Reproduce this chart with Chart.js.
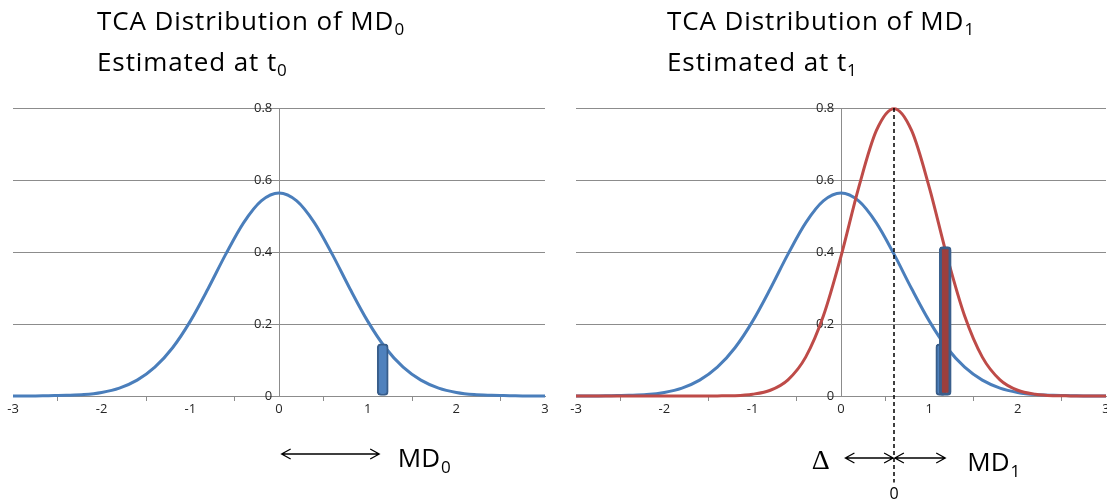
<!DOCTYPE html>
<html>
<head>
<meta charset="utf-8">
<script src="https://cdn.jsdelivr.net/npm/chart.js@4"></script>
<style>
  html, body { margin: 0; padding: 0; background: #fff; }
  body { width: 1107px; height: 502px; overflow: hidden; position: relative; }
  canvas { position: absolute; top: 0; }
  #leftChart { left: 0; }
  #rightChart { left: 560px; }
  .title {
    position: absolute; top: 0px;
    font-family: "Open Sans", sans-serif; font-size: 26px; line-height: 41px; color: #000;
    letter-spacing: 0.9px; white-space: nowrap;
  }
  .title sub { font-size: 17px; vertical-align: -5px; line-height: 0; letter-spacing: 0; }
</style>
</head>
<body>
<canvas id="leftChart" width="560" height="502"></canvas>
<canvas id="rightChart" width="560" height="502"></canvas>
<div class="title" style="left:97px">TCA Distribution of MD<sub>0</sub><br>Estimated at t<sub>0</sub></div>
<div class="title" style="left:667px">TCA Distribution of MD<sub>1</sub><br>Estimated at t<sub>1</sub></div>

<script>
/* ================= DATA ================= */

const xValues = [-3, -2.8, -2.6, -2.4, -2.2, -2, -1.8, -1.6, -1.4, -1.2, -1, -0.8, -0.6, -0.4, -0.2,
  0, 0.2, 0.4, 0.6, 0.8, 1, 1.2, 1.4, 1.6, 1.8, 2, 2.2, 2.4, 2.6, 2.8, 3];

// TCA distribution estimated at t0 (blue)
const densityT0 = [0.000, 0.000, 0.001, 0.002, 0.004, 0.010, 0.022, 0.044, 0.080, 0.134, 0.208, 0.298, 0.394, 0.481, 0.542,
  0.564, 0.542, 0.481, 0.394, 0.298, 0.208, 0.134, 0.080, 0.044, 0.022, 0.010, 0.004, 0.002, 0.001, 0.000, 0.000];

// TCA distribution estimated at t1 (red)
const densityT1 = [0.000, 0.000, 0.000, 0.000, 0.000, 0.000, 0.000, 0.000, 0.0003, 0.001, 0.005, 0.016, 0.045, 0.108, 0.222,
  0.388, 0.579, 0.737, 0.798, 0.737, 0.579, 0.388, 0.222, 0.108, 0.045, 0.016, 0.005, 0.001, 0.0003, 0.000, 0.000];

// miss distance markers [x, height]
const md0Bar = [1.17, 0.145];
const md0BarRight = [1.13, 0.145];
const md1Bar = [1.18, 0.415];

// peak of the t1 distribution (dashed line)
const deltaX = 0.6;
const dashedY = [0.8, -0.24];

const yTicks = [0, 0.2, 0.4, 0.6, 0.8];

/* ================= HELPERS ================= */

const BLUE = "#4a7ebb";
const RED = "#be4b48";
const GRID = "#8c8c8c";
const TICK_FONT = { family: "Open Sans", size: 13 };

const toPoints = (xs, ys) => xs.map((x, i) => ({ x: x, y: ys[i] }));

function curve(ys, color, order) {
  return {
    type: "line",
    data: toPoints(xValues, ys),
    borderColor: color,
    borderWidth: 3,
    pointRadius: 0,
    cubicInterpolationMode: "monotone",
    clip: false,
    order: order
  };
}

function marker(bar, fill, border, width, thickness, order) {
  return {
    type: "bar",
    data: [{ x: bar[0], y: bar[1] }],
    backgroundColor: fill,
    borderColor: border,
    borderWidth: width,
    borderRadius: 4,
    borderSkipped: false,
    barThickness: thickness,
    grouped: false,
    order: order
  };
}

// arrows + labels under the plot
const annotations = {
  id: "annotations",
  afterDraw(chart, args, opts) {
    const ctx = chart.ctx;
    const xs = chart.scales.x;
    const px = v => xs.getPixelForValue(v);
    ctx.save();
    ctx.strokeStyle = "#000";
    ctx.fillStyle = "#000";
    ctx.lineWidth = 1.3;
    (opts.arrows || []).forEach(a => {
      const x1 = px(a[0]), x2 = px(a[1]), y = opts.arrowY;
      ctx.beginPath();
      ctx.moveTo(x1, y); ctx.lineTo(x2, y);
      ctx.moveTo(x1 + 9, y - 5); ctx.lineTo(x1, y); ctx.lineTo(x1 + 9, y + 5);
      ctx.moveTo(x2 - 9, y - 5); ctx.lineTo(x2, y); ctx.lineTo(x2 - 9, y + 5);
      ctx.stroke();
    });
    (opts.texts || []).forEach(t => {
      ctx.font = t.font;
      ctx.textBaseline = "alphabetic";
      ctx.textAlign = t.align || "left";
      ctx.fillText(t.text, px(t.x), t.y);
      if (t.sub) {
        const w = ctx.measureText(t.text).width;
        ctx.font = t.subFont;
        ctx.fillText(t.sub, px(t.x) + w + 1, t.y + 6);
      }
    });
    ctx.restore();
  }
};

function makeChart(id, datasets, padding, annot) {
  return new Chart(document.getElementById(id), {
    type: "line",
    data: { datasets: datasets },
    options: {
      responsive: false,
      animation: false,
      events: [],
      layout: { padding: padding },
      plugins: {
        legend: { display: false },
        tooltip: { enabled: false },
        annotations: annot
      },
      scales: {
        x: {
          type: "linear",
          min: -3,
          max: 3,
          offset: false,
          ticks: { stepSize: 1, color: "#262626", font: TICK_FONT, padding: 0, maxRotation: 0 },
          grid: { drawOnChartArea: false, drawTicks: true, tickLength: 5, color: GRID },
          border: { display: true, color: GRID },
          afterFit: s => { s.height = 40; }
        },
        y: {
          type: "linear",
          min: 0,
          max: 0.8,
          position: { x: 0 },
          afterBuildTicks: s => { s.ticks = yTicks.map(v => ({ value: v })); },
          // trailing spaces keep the labels clear of the centred axis line
          ticks: { color: "#262626", font: TICK_FONT, callback: v => v + "  " },
          grid: { color: GRID, tickLength: 4 },
          border: { display: true, color: GRID }
        }
      }
    },
    plugins: [annotations]
  });
}

/* ================= LEFT: MD0 at t0 ================= */

makeChart("leftChart", [
  marker(md0Bar, "#4f81bd", "#385d8a", 2, 11, 1),
  curve(densityT0, BLUE, 2)
], { left: 13, right: 15, top: 108, bottom: 66 }, {
  arrowY: 454,
  arrows: [[0.03, 1.13]],
  texts: [
    { text: "MD", sub: "0", x: 1.34, y: 467, font: "26px 'Open Sans'", subFont: "17px 'Open Sans'" }
  ]
});

/* ================= RIGHT: MD1 at t1 ================= */

makeChart("rightChart", [
  {
    type: "line",
    data: [{ x: deltaX, y: dashedY[0] }, { x: deltaX, y: dashedY[1] }],
    borderColor: "#000",
    borderWidth: 1.5,
    borderDash: [4, 3],
    pointRadius: 0,
    clip: false,
    order: 0
  },
  marker(md1Bar, "#9c3f3d", "#3b5f8c", 3, 12, 1),
  marker(md0BarRight, "#4f81bd", "#385d8a", 2, 10, 2),
  curve(densityT1, RED, 3),
  curve(densityT0, BLUE, 4)
], { left: 16, right: 14, top: 108, bottom: 66 }, {
  arrowY: 458,
  arrows: [[0.05, 0.59], [0.61, 1.18]],
  texts: [
    { text: "\u0394", x: -0.33, y: 469, font: "28px 'Liberation Serif'" },
    { text: "MD", sub: "1", x: 1.43, y: 471, font: "26px 'Open Sans'", subFont: "17px 'Open Sans'" },
    { text: "0", x: deltaX, y: 499, font: "16px 'Open Sans'", align: "center" }
  ]
});
</script>
</body>
</html>
